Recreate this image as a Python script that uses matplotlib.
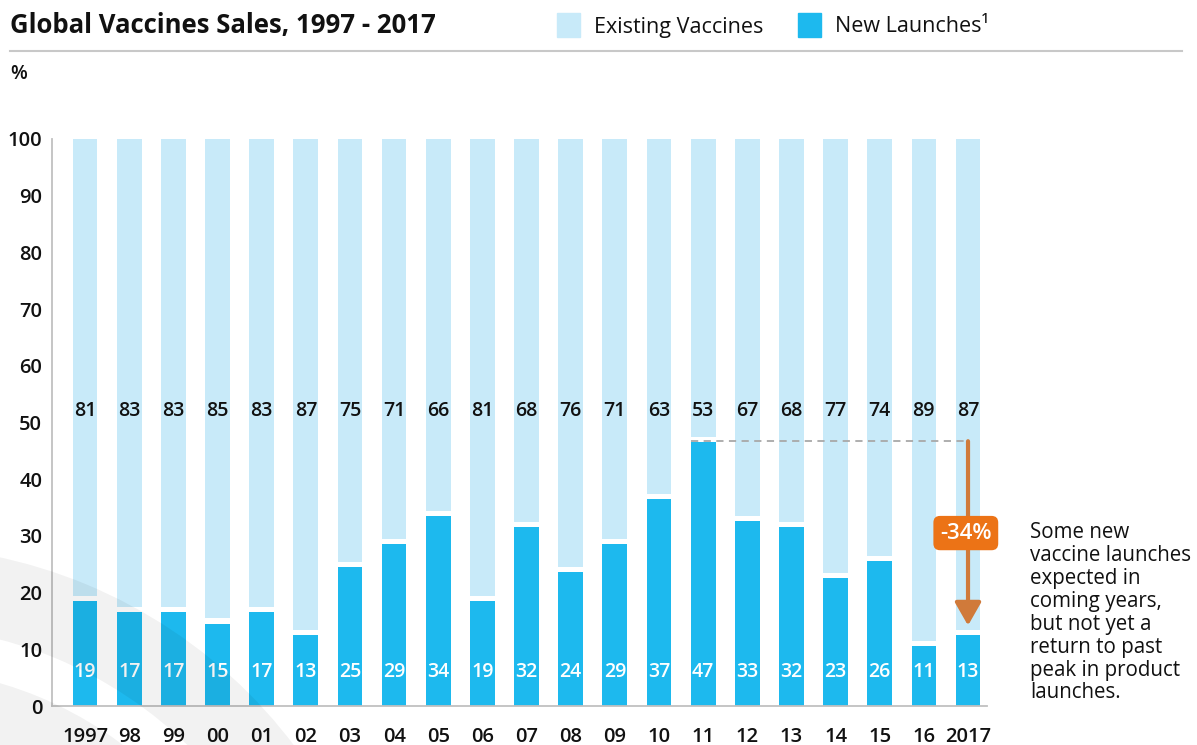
import matplotlib
matplotlib.use('Agg')
from matplotlib import pyplot as plt
import matplotlib.patches as mpatches

plt.rcParams['font.family'] = ['Open Sans', 'DejaVu Sans']

# data
years = ['1997', '98', '99', '00', '01', '02', '03', '04', '05', '06', '07',
         '08', '09', '10', '11', '12', '13', '14', '15', '16', '2017']
new_launches = [19, 17, 17, 15, 17, 13, 25, 29, 34, 19, 32, 24, 29, 37, 47, 33, 32, 23, 26, 11, 13]
existing = [81, 83, 83, 85, 83, 87, 75, 71, 66, 81, 68, 76, 71, 63, 53, 67, 68, 77, 74, 89, 87]
yticks = [0, 10, 20, 30, 40, 50, 60, 70, 80, 90, 100]

light = '#C8EAF9'
blue = '#1DB9EE'
orange = '#EC7316'
arrow_col = '#D07A3A'
ink = '#111111'

fig = plt.figure(figsize=(11.97, 7.45), dpi=100)
ax = fig.add_axes([52/1197, 39/745, 935/1197, 567/745])
ax.set_facecolor('none')

gap = 0.45
x = list(range(len(years)))
ax.bar(x, [v - gap for v in new_launches], width=0.56, color=blue, linewidth=0)
ax.bar(x, [v - gap for v in existing], bottom=[v + gap for v in new_launches],
       width=0.56, color=light, linewidth=0)

for i in x:
    ax.text(i, 6, str(new_launches[i]), color='white', ha='center', va='center',
            fontsize=14, fontweight='semibold')
    ax.text(i, 52, str(existing[i]), color=ink, ha='center', va='center',
            fontsize=14, fontweight='semibold')

# peak reference line and arrow
peak = max(new_launches)
ip = new_launches.index(peak)
ax.plot([ip - 0.28, x[-1]], [peak - 0.3, peak - 0.3], ls=(0, (4, 3)), color='#a8a8a8', lw=1.3)
ax.annotate('', xy=(x[-1], new_launches[-1] + 1.2), xytext=(x[-1], peak - 0.3),
            arrowprops=dict(arrowstyle='-|>,head_width=0.4,head_length=0.7',
                            mutation_scale=20, color=arrow_col, lw=3,
                            shrinkA=0, shrinkB=0))
ax.text(x[-1] - 0.05, 30.5, '-34%', color='white', ha='center', va='center',
        fontsize=16, fontweight='semibold',
        bbox=dict(boxstyle='round,pad=0.3,rounding_size=0.3', fc=orange, ec='none'))

ax.set_xlim(-0.75, 20.43)
ax.set_ylim(0, 100)
ax.set_xticks(x)
ax.set_xticklabels(years)
ax.set_yticks(yticks)
for s in ['top', 'right']:
    ax.spines[s].set_visible(False)
for s in ['left', 'bottom']:
    ax.spines[s].set_color('#c0c0c0')
    ax.spines[s].set_linewidth(1.3)
ax.tick_params(length=0, labelsize=14.5, colors=ink)
ax.tick_params(axis='x', pad=15)
ax.tick_params(axis='y', pad=7)
for lab in ax.get_xticklabels() + ax.get_yticklabels():
    lab.set_fontweight('semibold')

# faint decorative bands in the lower left corner
deco = fig.add_axes([0, 0, 1, 1], zorder=5)
deco.set_xlim(0, 1197)
deco.set_ylim(745, 0)
deco.axis('off')
deco.add_patch(mpatches.Wedge((-106, 1047), 501, 0, 360, width=80, color='black', alpha=0.05, lw=0))
deco.add_patch(mpatches.Wedge((-106, 1047), 379, 0, 360, width=70, color='black', alpha=0.05, lw=0))

# header
fig.text(10/1197, 1 - 25/745, 'Global Vaccines Sales, 1997 - 2017', fontsize=18.5,
         fontweight='bold', va='center', ha='left', color=ink)
fig.patches.append(mpatches.Rectangle((557/1197, 1 - 37/745), 23/1197, 24/745,
                                      color=light, transform=fig.transFigure))
fig.text(594/1197, 1 - 27/745, 'Existing Vaccines', fontsize=15.5, va='center', color=ink)
fig.patches.append(mpatches.Rectangle((798/1197, 1 - 37/745), 23/1197, 24/745,
                                      color=blue, transform=fig.transFigure))
fig.text(835/1197, 1 - 27/745, 'New Launches\u00b9', fontsize=15.5, va='center', color=ink)
fig.add_artist(plt.Line2D([10/1197, 1182/1197], [1 - 51/745, 1 - 51/745],
                          color='#c8c8c8', lw=1.5, transform=fig.transFigure))
fig.text(10/1197, 1 - 74/745, '%', fontsize=14, fontweight='semibold', va='center', color=ink)

fig.text(1030/1197, 1 - 522/745,
         'Some new\nvaccine launches\nexpected in\ncoming years,\nbut not yet a\nreturn to past\npeak in product\nlaunches.',
         fontsize=14.8, fontweight='medium', va='top', ha='left', color=ink, linespacing=1.12)

plt.savefig('out.png', dpi=100)
